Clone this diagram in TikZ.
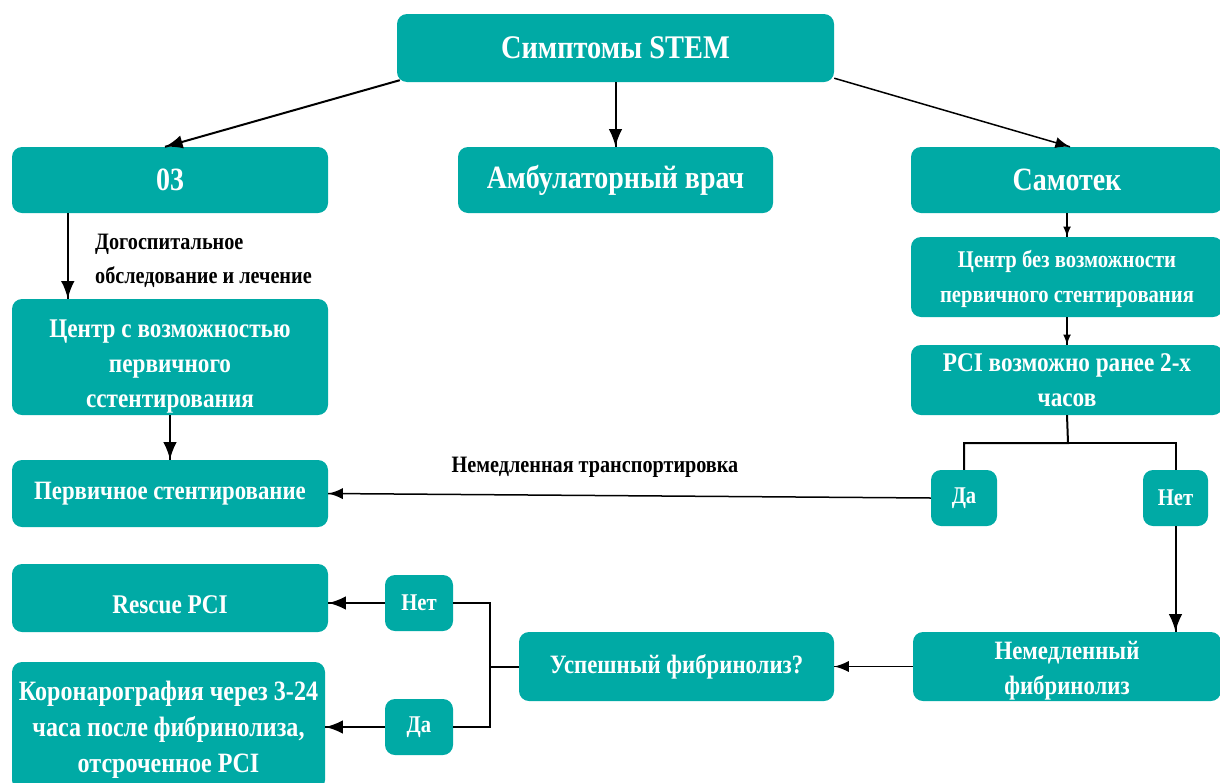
\documentclass[tikz,border=0pt]{standalone}
\usepackage{fontspec}
\setmainfont{Liberation Serif}[FakeStretch=0.86]
\usetikzlibrary{arrows}
\usetikzlibrary{decorations.markings}
\usetikzlibrary{positioning}
\definecolor{teal}{RGB}{0,170,165}
\tikzset{arr/.style = {decoration={markings,
                                  mark=at position 1 with {\arrow[scale=2]{latex}}},
                      postaction={decorate}}}
\tikzset{arrs/.style = {decoration={markings,
                                  mark=at position 1 with {\arrow[scale=1.4]{latex}}},
                      postaction={decorate}}}
\tikzset{box/.style = {fill=teal, rounded corners=10pt, inner sep=0, text=white,
                       font=\bfseries\fontsize{24}{35}\selectfont, align=center}}
\tikzset{boxl/.style = {box, font=\bfseries\fontsize{27}{35}\selectfont}}
\tikzset{big/.style = {box, font=\bfseries\fontsize{32.5}{35}\selectfont}}
\tikzset{lbl/.style = {inner sep=0, font=\bfseries\fontsize{23.5}{34}\selectfont}}

\begin{document}
\begin{tikzpicture}[x=1pt, y=-1pt]
    \useasboundingbox (0, 0) rectangle (1220, 782);

    \node [big, minimum width=437, minimum height=68, font=\bfseries\fontsize{33}{35}\selectfont]
        (sym) at (615.5, 48) {Симптомы STEM};
    \node [big, minimum width=316, minimum height=66] (ems) at (170, 180) {03};
    \node [big, minimum width=315, minimum height=66] (amb) at (615.5, 180) {Амбулаторный врач};
    \node [big, minimum width=312, minimum height=66] (self) at (1067, 180) {Самотек};

    \node [box, minimum width=312, minimum height=80, text height=50, text depth=0]
        (nopci) at (1067, 277) {Центр без возможности\\первичного стентирования};
    \node [boxl, minimum width=312, minimum height=70] (pcitime) at (1067, 380)
        {PCI возможно ранее 2-х\\часов};
    \node [box, minimum width=66, minimum height=56] (yesr) at (964, 498) {Да};
    \node [box, minimum width=65, minimum height=56] (nor) at (1175.5, 498) {Нет};

    \node [boxl, minimum width=316, minimum height=116, text height=100, text depth=0]
        (pcc) at (170, 357) {Центр с возможностью\\первичного\\сстентирования};
    \node [boxl, minimum width=316, minimum height=67, font=\bfseries\fontsize{26.5}{35}\selectfont]
        (pstent) at (170, 493.5) {Первичное стентирование};
    \node [boxl, minimum width=316, minimum height=68, text height=30, text depth=0]
        (rescue) at (170, 598) {Rescue PCI};
    \node [box, minimum width=313, minimum height=128, text height=92, text depth=0,
           font=\bfseries\fontsize{28}{36}\selectfont]
        (coro) at (168.5, 726) {Коронарография через 3-24\\часа после фибринолиза,\\отсроченное PCI};

    \node [box, minimum width=68, minimum height=56] (nol) at (419, 603) {Нет};
    \node [box, minimum width=68, minimum height=56] (yesl) at (419, 727) {Да};
    \node [boxl, minimum width=315, minimum height=69, font=\bfseries\fontsize{26.5}{35}\selectfont]
        (success) at (676.5, 666.5) {Успешный фибринолиз?};
    \node [boxl, minimum width=308, minimum height=69, text height=55, text depth=0,
           font=\bfseries\fontsize{26.5}{35}\selectfont]
        (fibr) at (1067, 666.5) {Немедленный\\фибринолиз};

    \node [lbl, align=left, anchor=west] (pre) at (95, 261)
        {Догоспитальное\\обследование и лечение};
    \node [lbl] (trans) at (595, 467) {Немедленная транспортировка};

    \coordinate (rsplit) at (1068, 443);
    \coordinate (lsplit) at (490, 666.5);

    \draw [arr, line width=2] ([xshift=3, yshift=2]sym.south west) -- ([xshift=-5]ems.north);
    \draw [arr, line width=2] (sym.south) -- (amb.north);
    \draw [arr, line width=1.5] ([yshift=4]sym.south east) -- ([xshift=3]self.north);
    \draw [arrs, line width=1.5] (self.south) -- (nopci.north);
    \draw [arrs, line width=1.5] (nopci.south) -- (pcitime.north);
    \draw [line width=2] (pcitime.south) -- (rsplit) -| (yesr.north);
    \draw [line width=2] (rsplit) -| (nor.north);
    \draw [arr, line width=1.5] (yesr.west) -- (pstent.east);
    \draw [arr, line width=2] (nor.south) -- (nor.south |- fibr.north);
    \draw [arr, line width=1.5] (fibr.west) -- (success.east);
    \draw [line width=2] (success.west) -- (lsplit);
    \draw [line width=2] (nol.east) -| (lsplit) |- (yesl.east);
    \draw [arr, line width=2] (nol.west) -- (nol.west -| rescue.east);
    \draw [arr, line width=2] (yesl.west) -- (yesl.west -| coro.east);
    \draw [arr, line width=2] ([xshift=56]ems.south west) -- ([xshift=56]pcc.north west);
    \draw [arr, line width=2] (pcc.south) -- (pstent.north);
  \end{tikzpicture}
\end{document}
